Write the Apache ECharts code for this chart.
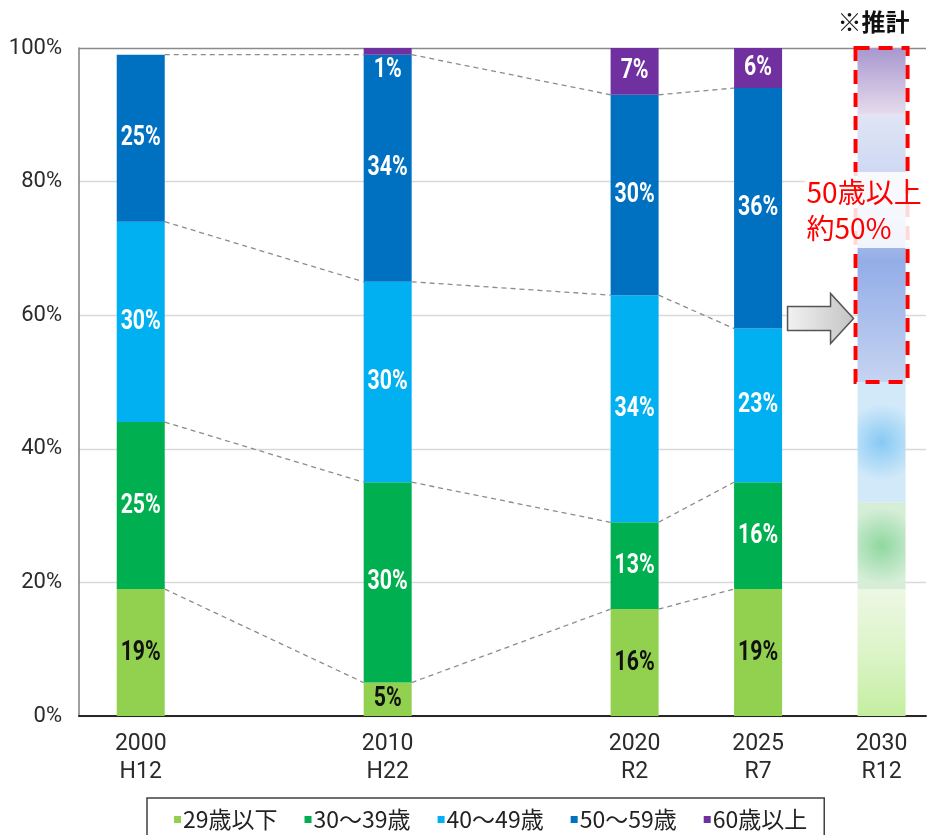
<!DOCTYPE html>
<html lang="ja">
<head>
<meta charset="utf-8">
<title>年齢構成の推移</title>
<script src="https://cdn.jsdelivr.net/npm/echarts@6/dist/echarts.min.js"></script>
<style>
  html, body { margin: 0; padding: 0; background: #ffffff; }
  #chart { width: 927px; height: 835px; }
</style>
</head>
<body>
<div id="chart"></div>
<script>
// 調査年と元号表記
const years = [2000, 2010, 2020, 2025, 2030];
const eraLabels = ['H12', 'H22', 'R2', 'R7', 'R12'];
// 年齢区分
const ageGroups = ['29歳以下', '30～39歳', '40～49歳', '50～59歳', '60歳以上'];
// 各年の構成比（%）。2030年は推計値
const under29 = [19, 5, 16, 19, 19];
const age30s  = [25, 30, 13, 16, 13];
const age40s  = [30, 30, 34, 23, 18];
const age50s  = [25, 34, 30, 36, 40];
const over60  = [0, 1, 7, 6, 10];
// 縦軸の目盛
const yTicks = [0, 20, 40, 60, 80, 100];
// 推計の注記
const estimateNote = '※推計';
const estimateText = '50歳以上\n約50%';
const arrowLevel = 59.5;

const seriesValues = [under29, age30s, age40s, age50s, over60];
const estimateIdx = years.length - 1;

const NUM = 'Roboto, "Noto Sans", sans-serif';
const JP = '"Noto Sans CJK JP", "Noto Sans", sans-serif';
const colors = ['#92D050', '#00B050', '#00B0F0', '#0070C0', '#7030A0'];
const labelColors = ['#111111', '#ffffff', '#ffffff', '#ffffff', '#ffffff'];
const BAR_W = 48;

// 推計年の棒は淡いぼかし色で塗る
function lg(stops) {
  return { type: 'linear', x: 0, y: 0, x2: 0, y2: 1,
    colorStops: stops.map(s => ({ offset: s[0], color: s[1] })) };
}
function rg(inner, outer) {
  return { type: 'radial', x: 0.5, y: 0.5, r: 0.8,
    colorStops: [{ offset: 0, color: inner }, { offset: 1, color: outer }] };
}
const estimateFills = [
  lg([[0, '#edf8e4'], [0.5, '#dcf4c8'], [1, '#c4eea0']]),
  rg('#8fd7a0', '#d6eed8'),
  rg('#86c9f4', '#d2e9f9'),
  lg([[0, '#dfe5f6'], [0.3, '#c8d4f1'], [0.55, '#93ade7'], [1, '#c6d4f2']]),
  lg([[0, '#a797cf'], [1, '#e6dcec']])
];

// 累積値（区分の境界）
const cumulative = [];
let running = years.map(() => 0);
seriesValues.forEach(vals => {
  running = running.map((r, i) => r + vals[i]);
  cumulative.push(running.slice());
});

// 積み上げ棒：各区分を [年, 下端, 上端, 構成比] で描く
const barSeries = seriesValues.map((vals, s) => ({
  name: ageGroups[s],
  type: 'custom',
  z: 2,
  itemStyle: { color: colors[s] },
  encode: { x: 0, y: [1, 2] },
  data: vals.map((v, i) => [years[i], cumulative[s][i] - v, cumulative[s][i], v]),
  renderItem: (params, api) => {
    const i = params.dataIndex;
    const v = api.value(3);
    const top = api.coord([api.value(0), api.value(2)]);
    const bottom = api.coord([api.value(0), api.value(1)]);
    const h = bottom[1] - top[1];
    const children = [];
    if (h > 0) {
      children.push({
        type: 'rect',
        shape: { x: top[0] - BAR_W / 2, y: top[1], width: BAR_W, height: h },
        style: { fill: i === estimateIdx ? estimateFills[s] : colors[s] }
      });
    }
    if (i !== estimateIdx && v > 0) {
      const small = v < 3;
      children.push({
        type: 'text',
        x: top[0],
        y: small ? bottom[1] + 1 : (top[1] + bottom[1]) / 2,
        scaleX: 0.76,
        style: {
          text: v + '%',
          fill: labelColors[s],
          font: 'bold 28px ' + NUM,
          align: 'center',
          verticalAlign: small ? 'top' : 'middle'
        }
      });
    }
    return { type: 'group', children: children };
  }
}));

// 区分境界を結ぶ破線
const connectorData = [];
for (let lvl = 0; lvl < 4; lvl++) {
  for (let i = 0; i < estimateIdx - 1; i++) {
    connectorData.push([years[i], cumulative[lvl][i], years[i + 1], cumulative[lvl][i + 1]]);
  }
}
const connectorSeries = {
  type: 'custom',
  silent: true,
  z: 1,
  encode: { x: [0, 2], y: [1, 3] },
  renderItem: (params, api) => {
    const a = api.coord([api.value(0), api.value(1)]);
    const b = api.coord([api.value(2), api.value(3)]);
    return {
      type: 'line',
      shape: { x1: a[0] + BAR_W / 2, y1: a[1], x2: b[0] - BAR_W / 2, y2: b[1] },
      style: { stroke: '#8c8c8c', lineWidth: 1.3, lineDash: [5, 4] }
    };
  },
  data: connectorData
};

const chart = echarts.init(document.getElementById('chart'), null, { renderer: 'canvas' });
chart.setOption({
  animation: false,
  backgroundColor: '#ffffff',
  grid: { left: 79, right: 1, top: 48, bottom: 119 },
  legend: {
    data: ageGroups.map(n => ({ name: n, icon: 'rect' })),
    left: 147,
    top: 798,
    orient: 'horizontal',
    itemWidth: 7,
    itemHeight: 7,
    itemGap: 27,
    padding: [10, 17, 14, 27],
    borderColor: '#404040',
    borderWidth: 1.5,
    textStyle: { fontFamily: JP, fontSize: 23, color: '#222222', padding: [0, 0, 0, -3] }
  },
  xAxis: {
    type: 'value',
    min: 1997.5,
    max: 2031.8,
    splitLine: { show: false },
    axisTick: { show: false },
    axisLine: { show: true, lineStyle: { color: '#262626', width: 2 } },
    axisLabel: {
      customValues: years,
      margin: 14,
      fontFamily: NUM,
      fontSize: 23,
      lineHeight: 28,
      color: '#2b2b2b',
      formatter: v => v + '\n' + eraLabels[years.indexOf(v)]
    }
  },
  yAxis: {
    type: 'value',
    min: yTicks[0],
    max: yTicks[yTicks.length - 1],
    interval: yTicks[1] - yTicks[0],
    axisLine: { show: true, lineStyle: { color: '#7f7f7f', width: 1.5 } },
    axisTick: { show: false },
    splitLine: {
      show: true,
      lineStyle: { color: ['#d9d9d9', '#d9d9d9', '#d9d9d9', '#d9d9d9', '#d9d9d9', '#8a8a8a'], width: 1.3 }
    },
    axisLabel: {
      margin: 17,
      fontFamily: NUM,
      fontSize: 22,
      color: '#2b2b2b',
      formatter: '{value}%'
    }
  },
  series: [connectorSeries].concat(barSeries)
});

// 推計部分の注記（破線枠・矢印・文字）を座標から配置
const px = v => chart.convertToPixel({ gridIndex: 0 }, v);
const estYear = years[estimateIdx];
const topPt = px([estYear, cumulative[4][estimateIdx]]);
const midPt = px([estYear, cumulative[2][estimateIdx]]);
const arrowPt = px([estYear, arrowLevel]);
const barLeft = topPt[0] - BAR_W / 2;
const tipX = barLeft - 4;
const cy = arrowPt[1];

chart.setOption({
  graphic: [
    {
      type: 'polygon',
      z: 10,
      shape: {
        points: [
          [tipX - 66, cy - 12], [tipX - 23, cy - 12], [tipX - 23, cy - 25],
          [tipX, cy], [tipX - 23, cy + 25], [tipX - 23, cy + 12], [tipX - 66, cy + 12]
        ]
      },
      style: {
        fill: { type: 'linear', x: 0, y: 0, x2: 1, y2: 0,
          colorStops: [{ offset: 0, color: '#f2f2f2' }, { offset: 1, color: '#c4c4c4' }] },
        stroke: '#555555',
        lineWidth: 1.5
      }
    },
    {
      type: 'rect',
      z: 10,
      shape: { x: barLeft - 2, y: topPt[1], width: BAR_W + 4, height: midPt[1] - topPt[1] },
      style: { fill: 'none', stroke: '#ff0000', lineWidth: 4, lineDash: [14, 9] }
    },
    {
      type: 'text',
      z: 11,
      x: topPt[0] - 77,
      y: topPt[1] + 124,
      style: {
        text: estimateText,
        fill: '#ff0000',
        font: '28px ' + JP,
        lineHeight: 36,
        backgroundColor: 'rgba(255,255,255,0.85)',
        padding: [2, 10, 2, 2]
      }
    },
    {
      type: 'text',
      z: 11,
      x: topPt[0] - 8,
      y: 22,
      style: {
        text: estimateNote,
        fill: '#111111',
        font: 'bold 24px ' + JP,
        align: 'center',
        verticalAlign: 'middle'
      }
    }
  ]
});
</script>
</body>
</html>
